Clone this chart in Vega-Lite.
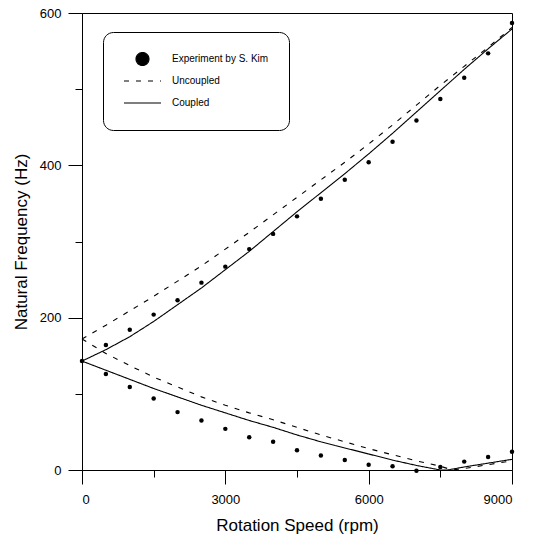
{
  "$schema": "https://vega.github.io/schema/vega-lite/v6.json",
  "width": 430,
  "height": 457,
  "autosize": {"type": "none"},
  "padding": {"left": 82, "top": 13, "right": 24, "bottom": 71},
  "background": "white",
  "config": {
    "view": {"stroke": "black", "strokeWidth": 1},
    "font": "Liberation Sans",
    "axis": {
      "grid": false,
      "domainColor": "black",
      "tickColor": "black",
      "labelColor": "black",
      "titleColor": "black",
      "labelFont": "Liberation Sans",
      "titleFont": "Liberation Sans",
      "labelFontSize": 13,
      "titleFontSize": 17,
      "titleFontWeight": "normal"
    }
  },
  "datasets": {
    "curves": [
      {"rpm": 0, "hz": 143, "series": "Coupled", "branch": "upper"},
      {"rpm": 500, "hz": 158, "series": "Coupled", "branch": "upper"},
      {"rpm": 1000, "hz": 175, "series": "Coupled", "branch": "upper"},
      {"rpm": 1500, "hz": 195, "series": "Coupled", "branch": "upper"},
      {"rpm": 2000, "hz": 217, "series": "Coupled", "branch": "upper"},
      {"rpm": 2500, "hz": 239, "series": "Coupled", "branch": "upper"},
      {"rpm": 3000, "hz": 263, "series": "Coupled", "branch": "upper"},
      {"rpm": 3500, "hz": 287, "series": "Coupled", "branch": "upper"},
      {"rpm": 4000, "hz": 313, "series": "Coupled", "branch": "upper"},
      {"rpm": 4500, "hz": 339, "series": "Coupled", "branch": "upper"},
      {"rpm": 5000, "hz": 364, "series": "Coupled", "branch": "upper"},
      {"rpm": 5500, "hz": 389, "series": "Coupled", "branch": "upper"},
      {"rpm": 6000, "hz": 415, "series": "Coupled", "branch": "upper"},
      {"rpm": 6500, "hz": 442, "series": "Coupled", "branch": "upper"},
      {"rpm": 7000, "hz": 470, "series": "Coupled", "branch": "upper"},
      {"rpm": 7500, "hz": 498, "series": "Coupled", "branch": "upper"},
      {"rpm": 8000, "hz": 526, "series": "Coupled", "branch": "upper"},
      {"rpm": 8500, "hz": 553, "series": "Coupled", "branch": "upper"},
      {"rpm": 9000, "hz": 579, "series": "Coupled", "branch": "upper"},
      {"rpm": 0, "hz": 143, "series": "Coupled", "branch": "lower"},
      {"rpm": 500, "hz": 131, "series": "Coupled", "branch": "lower"},
      {"rpm": 1000, "hz": 119, "series": "Coupled", "branch": "lower"},
      {"rpm": 1500, "hz": 107, "series": "Coupled", "branch": "lower"},
      {"rpm": 2000, "hz": 96, "series": "Coupled", "branch": "lower"},
      {"rpm": 2500, "hz": 85, "series": "Coupled", "branch": "lower"},
      {"rpm": 3000, "hz": 75, "series": "Coupled", "branch": "lower"},
      {"rpm": 3500, "hz": 65, "series": "Coupled", "branch": "lower"},
      {"rpm": 4000, "hz": 56, "series": "Coupled", "branch": "lower"},
      {"rpm": 4500, "hz": 46, "series": "Coupled", "branch": "lower"},
      {"rpm": 5000, "hz": 37, "series": "Coupled", "branch": "lower"},
      {"rpm": 5500, "hz": 29, "series": "Coupled", "branch": "lower"},
      {"rpm": 6000, "hz": 21, "series": "Coupled", "branch": "lower"},
      {"rpm": 6500, "hz": 13, "series": "Coupled", "branch": "lower"},
      {"rpm": 7000, "hz": 6, "series": "Coupled", "branch": "lower"},
      {"rpm": 7500, "hz": 0, "series": "Coupled", "branch": "lower"},
      {"rpm": 7650, "hz": 0, "series": "Coupled", "branch": "lower"},
      {"rpm": 8000, "hz": 4, "series": "Coupled", "branch": "lower"},
      {"rpm": 8500, "hz": 9, "series": "Coupled", "branch": "lower"},
      {"rpm": 9000, "hz": 14, "series": "Coupled", "branch": "lower"},
      {"rpm": 0, "hz": 172, "series": "Uncoupled", "branch": "upper"},
      {"rpm": 500, "hz": 190, "series": "Uncoupled", "branch": "upper"},
      {"rpm": 1000, "hz": 209, "series": "Uncoupled", "branch": "upper"},
      {"rpm": 1500, "hz": 228, "series": "Uncoupled", "branch": "upper"},
      {"rpm": 2000, "hz": 248, "series": "Uncoupled", "branch": "upper"},
      {"rpm": 2500, "hz": 268, "series": "Uncoupled", "branch": "upper"},
      {"rpm": 3000, "hz": 290, "series": "Uncoupled", "branch": "upper"},
      {"rpm": 3500, "hz": 312, "series": "Uncoupled", "branch": "upper"},
      {"rpm": 4000, "hz": 335, "series": "Uncoupled", "branch": "upper"},
      {"rpm": 4500, "hz": 358, "series": "Uncoupled", "branch": "upper"},
      {"rpm": 5000, "hz": 381, "series": "Uncoupled", "branch": "upper"},
      {"rpm": 5500, "hz": 404, "series": "Uncoupled", "branch": "upper"},
      {"rpm": 6000, "hz": 428, "series": "Uncoupled", "branch": "upper"},
      {"rpm": 6500, "hz": 453, "series": "Uncoupled", "branch": "upper"},
      {"rpm": 7000, "hz": 479, "series": "Uncoupled", "branch": "upper"},
      {"rpm": 7500, "hz": 505, "series": "Uncoupled", "branch": "upper"},
      {"rpm": 8000, "hz": 530, "series": "Uncoupled", "branch": "upper"},
      {"rpm": 8500, "hz": 555, "series": "Uncoupled", "branch": "upper"},
      {"rpm": 9000, "hz": 581, "series": "Uncoupled", "branch": "upper"},
      {"rpm": 0, "hz": 172, "series": "Uncoupled", "branch": "lower"},
      {"rpm": 500, "hz": 153, "series": "Uncoupled", "branch": "lower"},
      {"rpm": 1000, "hz": 137, "series": "Uncoupled", "branch": "lower"},
      {"rpm": 1500, "hz": 122, "series": "Uncoupled", "branch": "lower"},
      {"rpm": 2000, "hz": 109, "series": "Uncoupled", "branch": "lower"},
      {"rpm": 2500, "hz": 96, "series": "Uncoupled", "branch": "lower"},
      {"rpm": 3000, "hz": 85, "series": "Uncoupled", "branch": "lower"},
      {"rpm": 3500, "hz": 75, "series": "Uncoupled", "branch": "lower"},
      {"rpm": 4000, "hz": 66, "series": "Uncoupled", "branch": "lower"},
      {"rpm": 4500, "hz": 56, "series": "Uncoupled", "branch": "lower"},
      {"rpm": 5000, "hz": 46, "series": "Uncoupled", "branch": "lower"},
      {"rpm": 5500, "hz": 37, "series": "Uncoupled", "branch": "lower"},
      {"rpm": 6000, "hz": 28, "series": "Uncoupled", "branch": "lower"},
      {"rpm": 6500, "hz": 20, "series": "Uncoupled", "branch": "lower"},
      {"rpm": 7000, "hz": 12, "series": "Uncoupled", "branch": "lower"},
      {"rpm": 7500, "hz": 5, "series": "Uncoupled", "branch": "lower"},
      {"rpm": 7750, "hz": 0, "series": "Uncoupled", "branch": "lower"},
      {"rpm": 8000, "hz": 2, "series": "Uncoupled", "branch": "lower"},
      {"rpm": 8500, "hz": 7, "series": "Uncoupled", "branch": "lower"},
      {"rpm": 9000, "hz": 12, "series": "Uncoupled", "branch": "lower"}
    ],
    "experiment": [
      {"rpm": 0, "hz": 143},
      {"rpm": 500, "hz": 164},
      {"rpm": 1000, "hz": 184},
      {"rpm": 1500, "hz": 204},
      {"rpm": 2000, "hz": 223},
      {"rpm": 2500, "hz": 246},
      {"rpm": 3000, "hz": 267},
      {"rpm": 3500, "hz": 290},
      {"rpm": 4000, "hz": 310},
      {"rpm": 4500, "hz": 333},
      {"rpm": 5000, "hz": 356},
      {"rpm": 5500, "hz": 381},
      {"rpm": 6000, "hz": 404},
      {"rpm": 6500, "hz": 431},
      {"rpm": 7000, "hz": 459},
      {"rpm": 7500, "hz": 487},
      {"rpm": 8000, "hz": 515},
      {"rpm": 8500, "hz": 547},
      {"rpm": 9000, "hz": 587},
      {"rpm": 500, "hz": 126},
      {"rpm": 1000, "hz": 109},
      {"rpm": 1500, "hz": 94},
      {"rpm": 2000, "hz": 76},
      {"rpm": 2500, "hz": 65},
      {"rpm": 3000, "hz": 54},
      {"rpm": 3500, "hz": 43},
      {"rpm": 4000, "hz": 37},
      {"rpm": 4500, "hz": 26},
      {"rpm": 5000, "hz": 19},
      {"rpm": 5500, "hz": 13},
      {"rpm": 6000, "hz": 7},
      {"rpm": 6500, "hz": 5},
      {"rpm": 7000, "hz": -1},
      {"rpm": 7500, "hz": 4},
      {"rpm": 8000, "hz": 11},
      {"rpm": 8500, "hz": 17},
      {"rpm": 9000, "hz": 24}
    ]
  },
  "layer": [
    {
      "data": {"name": "curves"},
      "mark": {"type": "line", "color": "black", "strokeWidth": 1.1},
      "encoding": {
        "x": {
          "field": "rpm", "type": "quantitative",
          "scale": {"domain": [0, 9000], "nice": false, "zero": false},
          "axis": {"orient": "bottom", "values": [0, 3000, 6000, 9000], "tickSize": 14, "labelPadding": 9, "title": "Rotation Speed (rpm)", "titlePadding": 11, "format": "d"}
        },
        "y": {
          "field": "hz", "type": "quantitative",
          "scale": {"domain": [0, 600], "nice": false, "zero": false},
          "axis": {"orient": "left", "values": [0, 200, 400, 600], "tickSize": 14, "labelPadding": 7, "title": "Natural Frequency (Hz)", "titlePadding": 9}
        },
        "detail": {"field": "branch"},
        "order": {"field": "rpm", "type": "quantitative"},
        "strokeDash": {
          "field": "series", "type": "nominal",
          "scale": {"domain": ["Experiment by S. Kim", "Uncoupled", "Coupled"], "range": [[1, 0], [5, 7], [1, 0]]},
          "legend": {
            "orient": "none", "legendX": 21, "legendY": 19,
            "title": null,
            "strokeColor": "black", "cornerRadius": 10, "padding": 20,
            "labelFont": "Liberation Sans", "labelFontSize": 10, "labelColor": "black", "labelOffset": 10,
            "symbolType": "stroke", "symbolSize": 1369, "symbolStrokeColor": "black", "symbolStrokeWidth": 1.1,
            "clipHeight": 14,
            "rowPadding": 8,
            "encode": {
              "symbols": {
                "update": {
                  "shape": {"signal": "datum.label === 'Experiment by S. Kim' ? 'circle' : 'stroke'"},
                  "size": {"signal": "datum.label === 'Experiment by S. Kim' ? 169 : 1369"},
                  "fill": {"signal": "datum.label === 'Experiment by S. Kim' ? 'black' : 'transparent'"},
                  "stroke": {"value": "black"},
                  "strokeDash": {"signal": "datum.label === 'Uncoupled' ? [5, 7] : [1, 0]"}
                }
              }
            }
          }
        }
      }
    },
    {
      "data": {"name": "experiment"},
      "mark": {"type": "point", "filled": true, "color": "black", "size": 20, "opacity": 1},
      "encoding": {
        "x": {
          "field": "rpm", "type": "quantitative",
          "axis": {"orient": "bottom", "values": [1500, 4500, 7500], "tickSize": 7, "labels": false, "domain": false, "title": null}
        },
        "y": {
          "field": "hz", "type": "quantitative",
          "axis": {"orient": "left", "values": [100, 300, 500], "tickSize": 7, "labels": false, "domain": false, "title": null}
        }
      }
    }
  ],
  "resolve": {"axis": {"x": "independent", "y": "independent"}}
}
